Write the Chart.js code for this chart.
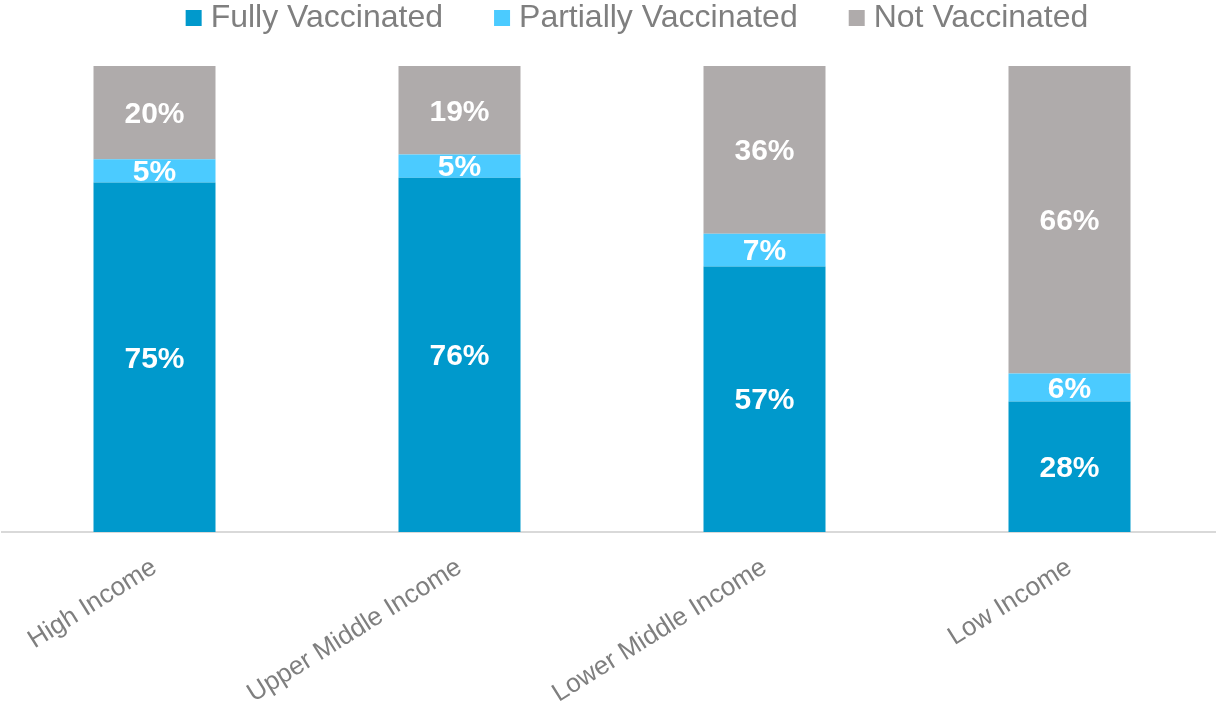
<!DOCTYPE html>
<html>
<head>
<meta charset="utf-8">
<title>Vaccination status by income group</title>
<script src="https://cdn.jsdelivr.net/npm/chart.js@4.4.1/dist/chart.umd.min.js"></script>
<style>
  html, body { margin: 0; padding: 0; overflow: hidden; background: #fff; }
</style>
</head>
<body>
<canvas id="vaxChart" width="1222" height="710"></canvas>
<script>
// data
const categories = ['High Income', 'Upper Middle Income', 'Lower Middle Income', 'Low Income'];
const fullyVaccinated = [75, 76, 57, 28];
const partiallyVaccinated = [5, 5, 7, 6];
const notVaccinated = [20, 19, 36, 66];
const seriesNames = ['Fully Vaccinated', 'Partially Vaccinated', 'Not Vaccinated'];
const seriesColors = ['#0099CC', '#4BCBFF', '#AFABAB'];

const FONT = '"Liberation Sans", Arial, sans-serif';
const GRAY_TEXT = '#7F7F7F';

// white % labels centred in each segment
const segmentLabels = {
  id: 'segmentLabels',
  afterDatasetsDraw(chart) {
    const ctx = chart.ctx;
    ctx.save();
    ctx.font = 'bold 30px ' + FONT;
    ctx.fillStyle = '#FFFFFF';
    ctx.textAlign = 'center';
    ctx.textBaseline = 'middle';
    chart.data.datasets.forEach((ds, i) => {
      chart.getDatasetMeta(i).data.forEach((bar, j) => {
        const y = (bar.y + bar.base) / 2;
        ctx.fillText(ds.data[j] + '%', bar.x, y + 2);
      });
    });
    ctx.restore();
  }
};

// legend on top, small squares close to the text (Excel style)
const topLegend = {
  id: 'topLegend',
  afterDraw(chart) {
    const ctx = chart.ctx;
    const box = 16, gapIn = 9, gapOut = 51;
    const baseline = 27;
    ctx.save();
    ctx.font = '32px ' + FONT;
    ctx.textBaseline = 'alphabetic';
    const widths = chart.data.datasets.map(ds => ctx.measureText(ds.label).width);
    const total = widths.reduce((s, w) => s + box + gapIn + w, 0) + gapOut * (widths.length - 1);
    let x = 637 - total / 2;
    chart.data.datasets.forEach((ds, i) => {
      ctx.fillStyle = ds.backgroundColor;
      ctx.fillRect(x, baseline - 17, box, 16);
      ctx.fillStyle = GRAY_TEXT;
      ctx.fillText(ds.label, x + box + gapIn, baseline);
      x += box + gapIn + widths[i] + gapOut;
    });
    ctx.restore();
  }
};

const data = {
  labels: categories,
  datasets: [
    { label: seriesNames[0], data: fullyVaccinated, backgroundColor: seriesColors[0] },
    { label: seriesNames[1], data: partiallyVaccinated, backgroundColor: seriesColors[1] },
    { label: seriesNames[2], data: notVaccinated, backgroundColor: seriesColors[2] }
  ]
};
data.datasets.forEach(ds => {
  ds.barPercentage = 0.4;
  ds.categoryPercentage = 1.0;
  ds.borderWidth = 0;
});

const config = {
  type: 'bar',
  data: data,
  options: {
    responsive: false,
    devicePixelRatio: 1,
    animation: false,
    layout: { padding: { top: 66, left: 2, right: 0, bottom: 0 } },
    plugins: {
      legend: { display: false },
      tooltip: { enabled: false }
    },
    scales: {
      x: {
        stacked: true,
        grid: { display: false, drawTicks: false },
        border: { display: true, color: '#D9D9D9', width: 2 },
        ticks: {
          color: GRAY_TEXT,
          font: { family: FONT, size: 26 },
          minRotation: 32,
          maxRotation: 32,
          autoSkip: false,
          padding: 20
        },
        afterFit(scale) { scale.height = 178; }
      },
      y: {
        stacked: true,
        display: false,
        min: 0,
        max: 100
      }
    }
  },
  plugins: [segmentLabels, topLegend]
};

new Chart(document.getElementById('vaxChart'), config);
</script>
</body>
</html>
